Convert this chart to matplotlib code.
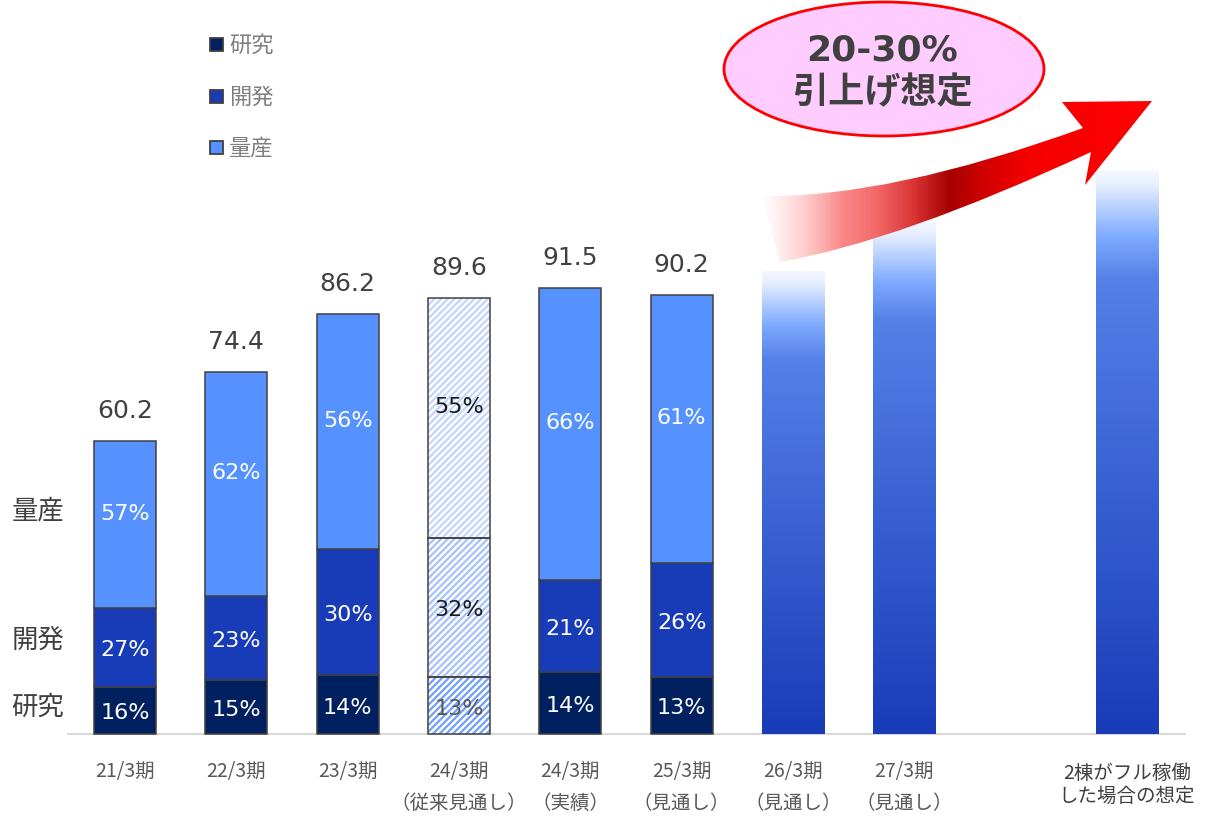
import numpy as np
import matplotlib
matplotlib.use('Agg')
import matplotlib.pyplot as plt
from matplotlib.colors import LinearSegmentedColormap
from matplotlib.patches import Rectangle, Ellipse, PathPatch
from matplotlib.path import Path

plt.rcParams['font.family'] = ['DejaVu Sans', 'Noto Sans CJK JP']
plt.rcParams['hatch.linewidth'] = 1.6

# 実績・見通し（合計と内訳）
PERIODS = ['21/3期', '22/3期', '23/3期', '24/3期', '24/3期', '25/3期', '26/3期', '27/3期']
NOTES = ['', '', '', '（従来見通し）', '（実績）', '（見通し）', '（見通し）', '（見通し）']
FULL_LABEL = ['2棟がフル稼働', 'した場合の想定']
TOTALS = [60.2, 74.4, 86.2, 89.6, 91.5, 90.2]
RESEARCH = [16, 15, 14, 13, 14, 13]
DEVELOP = [27, 23, 30, 32, 21, 26]
MASS = [57, 62, 56, 55, 66, 61]
OUTLOOK = [95.0, 105.0, 115.5]   # 26/3期, 27/3期, フル稼働
SEGMENTS = ['研究', '開発', '量産']

X = [0, 1, 2, 3, 4, 5, 6, 7, 9]
HATCHED = 3
W = 0.557
COLORS = ['#00205f', '#183cb8', '#5591ff']
HATCH_COLORS = ['#6f9fff', '#a3c1ff', '#c2d6ff']
EDGE = '#404040'

fig = plt.figure(figsize=(12.06, 8.29), dpi=100)
ax = fig.add_axes([0, 0, 1, 1])
ax.axis('off')

pcts = np.array([RESEARCH, DEVELOP, MASS], dtype=float)
totals = np.array(TOTALS)
heights = totals * pcts / pcts.sum(axis=0)

ax.plot([-0.512, 9.52], [0, 0], color='#d9d9d9', lw=1.5, zorder=1)

for i, total in enumerate(TOTALS):
    pos = X[i]
    bottom = 0.0
    for k in range(3):
        h = heights[k, i]
        if i == HATCHED:
            ax.bar(pos, h, W, bottom=bottom, color='white', edgecolor=HATCH_COLORS[k],
                   hatch='/////', lw=0, zorder=2)
            ax.bar(pos, h, W, bottom=bottom, fill=False, edgecolor=EDGE, lw=1.1, zorder=3)
            tc = '#595959' if k == 0 else '#1a1a1a'
        else:
            ax.bar(pos, h, W, bottom=bottom, color=COLORS[k], edgecolor=EDGE, lw=1.1, zorder=2)
            tc = 'white'
        ymid = bottom + h / 2 + (2.4 if k == 2 else -0.4)
        ax.text(pos, ymid, f'{int(pcts[k, i])}%', ha='center', va='center',
                fontsize=16, color=tc, zorder=4)
        bottom += h
    ax.annotate(f'{total:.1f}', (pos, total), xytext=(0, 31), textcoords='offset pixels',
                ha='center', va='center', fontsize=18, color='#404040')

# 見通しバー（グラデーション）
bar_cmap = LinearSegmentedColormap.from_list(
    'bar', [(0, '#183cb8'), (0.81, '#5580e8'), (0.885, '#7eaaff'), (0.975, '#e4edff'), (1, '#f4f7ff')])
grad = np.linspace(0, 1, 256).reshape(-1, 1)
for pos, v in zip(X[6:], OUTLOOK):
    ax.imshow(grad, cmap=bar_cmap, vmin=0, vmax=1, origin='lower', aspect='auto',
              extent=(pos - W / 2, pos + W / 2, 0, v), interpolation='bilinear', zorder=2)

for pos, period, note in zip(X, PERIODS, NOTES):
    ax.text(pos, -7.4, period, ha='center', va='center', fontsize=14,
            color='#595959', family=['Noto Sans CJK JP'])
    if note:
        ax.text(pos, -14.0, note, ha='center', va='center', fontsize=14,
                color='#595959', family=['Noto Sans CJK JP'])
ax.text(X[-1], -7.8, FULL_LABEL[0], ha='center', va='center', fontsize=14,
        color='#404040', family=['Noto Sans CJK JP'])
ax.text(X[-1], -12.7, FULL_LABEL[1], ha='center', va='center', fontsize=14,
        color='#404040', family=['Noto Sans CJK JP'])

ax.set_xlim(-1.1228, 9.710)
ax.set_ylim(-19.3, 150.9)

# 注記レイヤー（ピクセル座標）
ov = fig.add_axes([0, 0, 1, 1], zorder=3)
ov.set_xlim(0, 1206)
ov.set_ylim(829, 0)
ov.axis('off')

# 凡例
for y, name, c in zip([45, 97, 148], SEGMENTS, COLORS):
    ov.add_patch(Rectangle((210, y - 6.5), 13, 13, facecolor=c, edgecolor=EDGE, lw=1.3))
    ov.text(229, y, name, ha='left', va='center', fontsize=16, color='#7f7f7f')

# 左側の区分ラベル
for y, name in zip([708, 641, 511], SEGMENTS):
    ov.text(38, y, name, ha='center', va='center', fontsize=19, color='#404040')

# 上昇矢印
verts = [(762, 197), (890, 199), (1083, 129), (1062, 103), (1152, 102),
         (1085, 186), (1091, 153), (900, 242), (780, 263), (762, 197)]
codes = [Path.MOVETO, Path.CURVE3, Path.CURVE3, Path.LINETO, Path.LINETO,
         Path.LINETO, Path.LINETO, Path.CURVE3, Path.CURVE3, Path.CLOSEPOLY]
arrow = PathPatch(Path(verts, codes), facecolor='none', edgecolor='none')
ov.add_patch(arrow)
arrow_cmap = LinearSegmentedColormap.from_list('arrow', [
    (0.0, (1.0, 0.85, 0.85, 0.0)),
    (0.10, (1.0, 0.77, 0.77, 0.75)),
    (0.20, (0.98, 0.55, 0.55, 1.0)),
    (0.30, (0.95, 0.40, 0.40, 1.0)),
    (0.39, (0.85, 0.20, 0.20, 1.0)),
    (0.48, (0.65, 0.0, 0.0, 1.0)),
    (0.57, (0.82, 0.0, 0.0, 1.0)),
    (0.68, (0.96, 0.0, 0.0, 1.0)),
    (1.0, (1.0, 0.0, 0.0, 1.0)),
])
im = ov.imshow(np.linspace(0, 1, 512).reshape(1, -1), cmap=arrow_cmap, aspect='auto',
               extent=(760, 1155, 270, 95), interpolation='bilinear', zorder=4)
im.set_clip_path(arrow)

# 吹き出し
ov.add_patch(Ellipse((884, 70), 320, 134, facecolor='#ffccff', edgecolor='#ff0000', lw=2, zorder=5))
ov.text(882, 50, '20-30%', ha='center', va='center', fontsize=26, fontweight='bold',
        color='#404040', zorder=6)
ov.text(882, 93, '引上げ想定', ha='center', va='center', fontsize=26, fontweight='bold',
        color='#404040', zorder=6)
ov.set_xlim(0, 1206)
ov.set_ylim(829, 0)

fig.savefig('out.png', dpi=100)
